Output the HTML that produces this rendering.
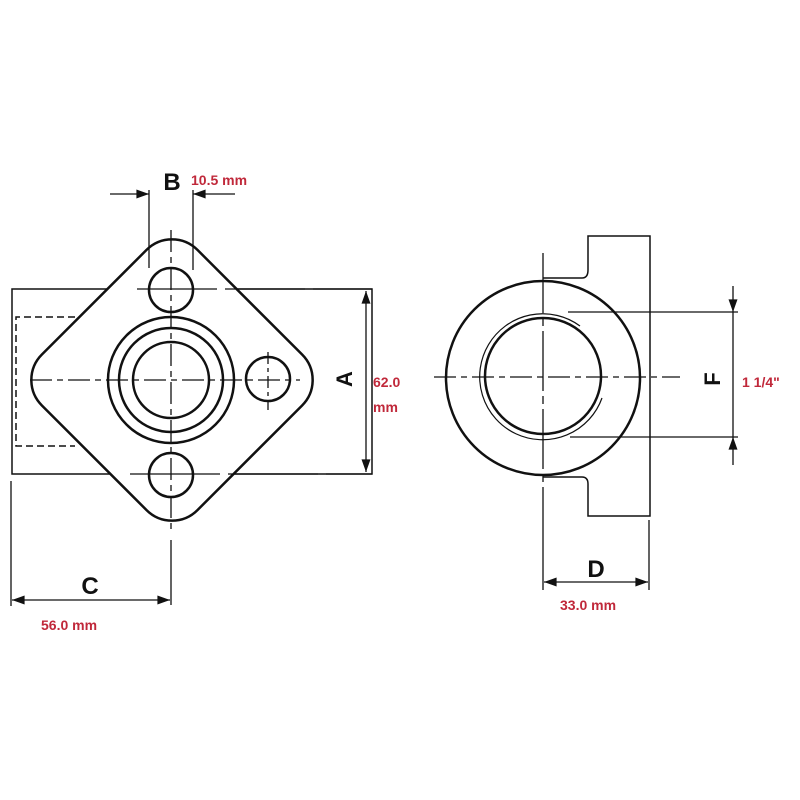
<!DOCTYPE html>
<html><head><style>
html,body{margin:0;padding:0;background:#fff;}
svg{display:block;}
.t{font-family:"Liberation Sans",sans-serif;font-weight:bold;fill:#111;}
.r{font-family:"Liberation Sans",sans-serif;font-weight:bold;fill:#c0283a;font-size:14px;}
</style></head><body>
<svg width="800" height="800" viewBox="0 0 800 800" xmlns="http://www.w3.org/2000/svg">
<defs>
<marker id="a" viewBox="0 0 14 10" refX="14" refY="5" markerWidth="14" markerHeight="9" orient="auto-start-reverse" markerUnits="userSpaceOnUse"><path d="M0,0 L14,5 L0,10 z" fill="#111"/></marker>
</defs>
<g stroke="#111" fill="none">
<!-- LEFT VIEW -->
<rect x="12" y="289" width="360" height="185" stroke-width="1.5"/>
<path d="M75,317 H16 V446 H75" stroke-width="1.5" stroke-dasharray="7,4"/>
<rect x="-110" y="-110" width="220" height="220" rx="36" transform="translate(172,380) rotate(45)" fill="#fff" stroke-width="2.5"/>
<circle cx="171" cy="290" r="22" stroke-width="2.5"/>
<circle cx="171" cy="475" r="22" stroke-width="2.5"/>
<circle cx="268" cy="379" r="22" stroke-width="2.5"/>
<circle cx="171" cy="380" r="63" stroke-width="2.5"/>
<circle cx="171" cy="380" r="52" stroke-width="2.5"/>
<circle cx="171" cy="380" r="38" stroke-width="2.5"/>
<!-- center lines -->
<line x1="171" y1="230" x2="171" y2="530" stroke-width="1.3" stroke-dasharray="22,5,6,5"/>
<line x1="171" y1="540" x2="171" y2="605" stroke-width="1.3"/>
<line x1="30" y1="380" x2="300" y2="380" stroke-width="1.3" stroke-dasharray="22,5,6,5"/>
<line x1="268" y1="352" x2="268" y2="410" stroke-width="1.3" stroke-dasharray="12,4,4,4"/>
<line x1="137" y1="289" x2="372" y2="289" stroke-width="1.3" stroke-dasharray="80,8"/>
<line x1="130" y1="474" x2="372" y2="474" stroke-width="1.3" stroke-dasharray="90,8"/>
<!-- B -->
<line x1="149" y1="190" x2="149" y2="268" stroke-width="1.3"/>
<line x1="193" y1="190" x2="193" y2="270" stroke-width="1.3"/>
<line x1="110" y1="194" x2="149" y2="194" stroke-width="1.3" marker-end="url(#a)"/>
<line x1="235" y1="194" x2="193" y2="194" stroke-width="1.3" marker-end="url(#a)"/>
<!-- A -->
<line x1="366" y1="291" x2="366" y2="472" stroke-width="1.3" marker-start="url(#a)" marker-end="url(#a)"/>
<!-- C -->
<line x1="11" y1="481" x2="11" y2="606" stroke-width="1.3"/>
<line x1="12" y1="600" x2="170" y2="600" stroke-width="1.3" marker-start="url(#a)" marker-end="url(#a)"/>

<!-- RIGHT VIEW -->
<path d="M543,278 H582 Q588,278 588,270 V236 H650 V516 H588 V484 Q588,477 582,477 H543" stroke-width="1.5"/>
<circle cx="543" cy="378" r="97" fill="#fff" stroke-width="2.5"/>
<circle cx="543" cy="376" r="58" stroke-width="2.5"/>
<path d="M580,326 A63,63 0 1 0 602,398" stroke-width="1.2"/>
<line x1="543" y1="253" x2="543" y2="500" stroke-width="1.3" stroke-dasharray="60,5,8,5"/>
<line x1="543" y1="500" x2="543" y2="590" stroke-width="1.3"/>
<line x1="434" y1="377" x2="680" y2="377" stroke-width="1.3" stroke-dasharray="22,5,6,5"/>
<line x1="568" y1="312" x2="738" y2="312" stroke-width="1.3"/>
<line x1="570" y1="437" x2="738" y2="437" stroke-width="1.3"/>
<line x1="733" y1="286" x2="733" y2="312" stroke-width="1.3" marker-end="url(#a)"/>
<line x1="733" y1="312" x2="733" y2="437" stroke-width="1.3"/>
<line x1="733" y1="465" x2="733" y2="437" stroke-width="1.3" marker-end="url(#a)"/>
<line x1="649" y1="520" x2="649" y2="590" stroke-width="1.3"/>
<line x1="544" y1="582" x2="648" y2="582" stroke-width="1.3" marker-start="url(#a)" marker-end="url(#a)"/>
</g>
<text class="t" x="172" y="190" font-size="24" text-anchor="middle">B</text>
<text class="r" x="191" y="185">10.5 mm</text>
<text class="t" font-size="22" text-anchor="middle" transform="translate(352,379) rotate(-90)">A</text>
<text class="r" x="373" y="387">62.0</text>
<text class="r" x="373" y="412">mm</text>
<text class="t" x="90" y="594" font-size="24" text-anchor="middle">C</text>
<text class="r" x="41" y="630">56.0 mm</text>
<text class="t" font-size="22" text-anchor="middle" transform="translate(720,379) rotate(-90)">F</text>
<text class="r" x="742" y="387">1 1/4"</text>
<text class="t" x="596" y="577" font-size="24" text-anchor="middle">D</text>
<text class="r" x="560" y="610">33.0 mm</text>
</svg>
</body></html>
